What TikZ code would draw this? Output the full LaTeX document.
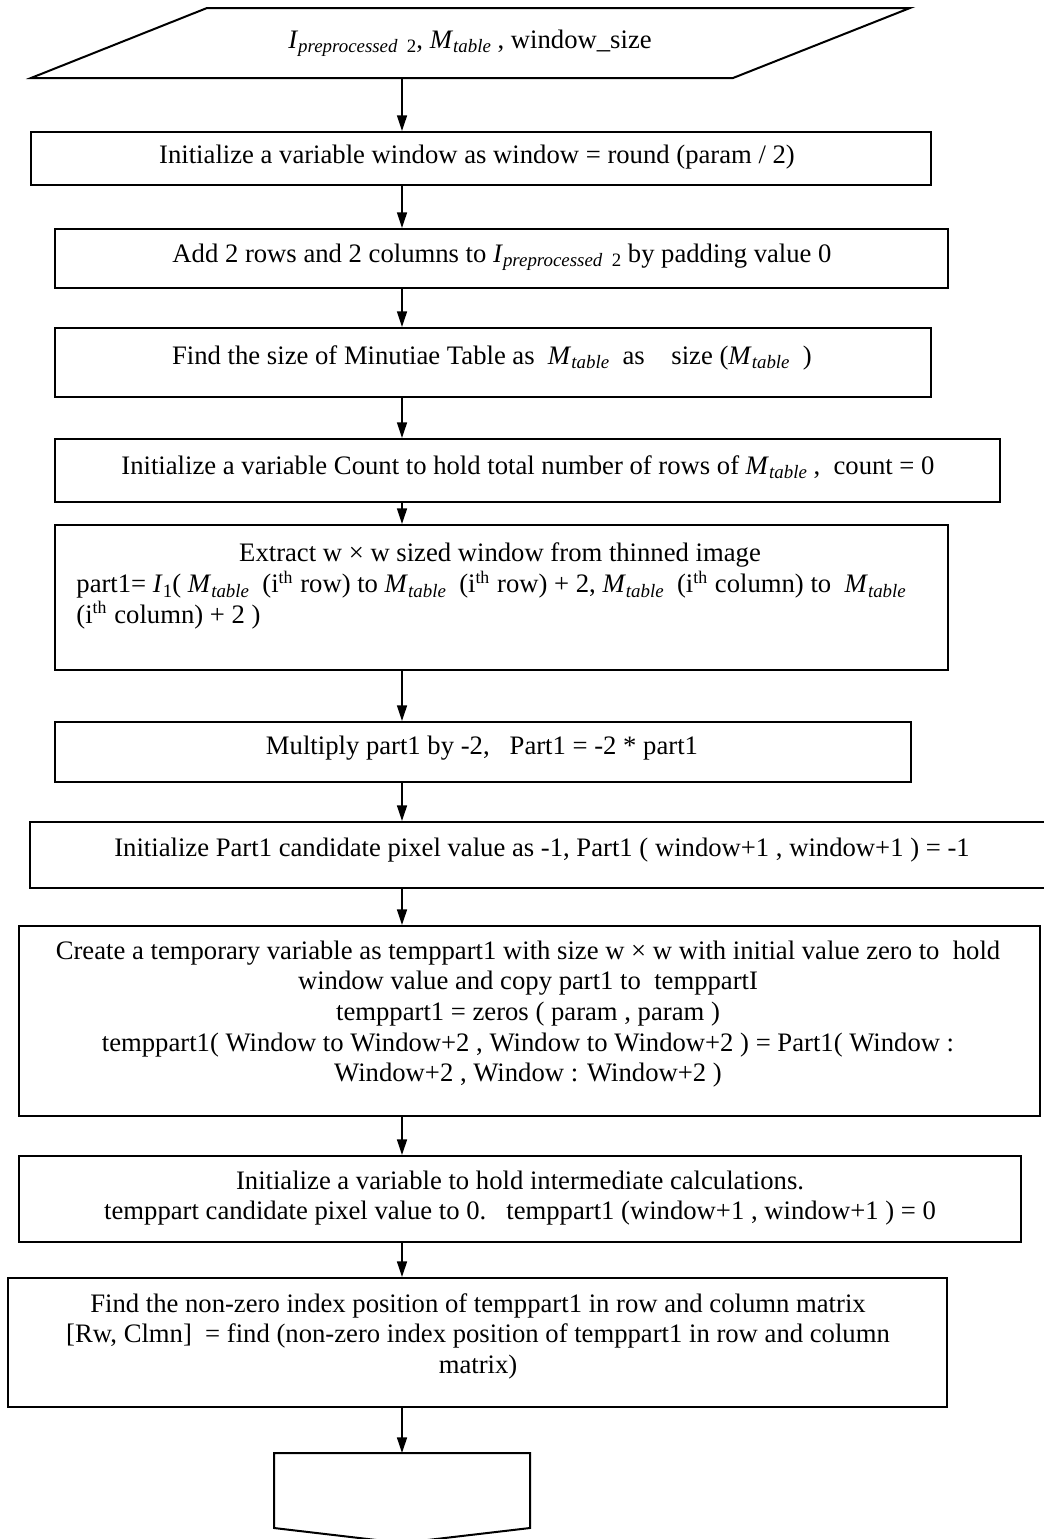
\documentclass[tikz,border=0pt]{standalone}
\usepackage{fontspec}
\setmainfont{Liberation Serif}
\usetikzlibrary{arrows.meta}
\newcommand\sv[2]{\textit{#1}\raisebox{-0.35ex}{\fontsize{8.5pt}{9pt}\selectfont\itshape #2}}
\newcommand\ith{i\textsuperscript{th}}
\begin{document}
\begin{tikzpicture}[x=0.45pt,y=-0.45pt,
  bx/.style 2 args={draw, line width=0.9pt, inner sep=0pt, anchor=center,
     minimum width=#1*0.45pt, minimum height=#2*0.45pt},
  txt/.style={inner sep=0pt, font=\fontsize{12pt}{13.7pt}\selectfont, align=center},
  arr/.style={line width=0.6pt, -{Triangle[width=4.5pt,length=7pt]}},
]
\useasboundingbox (0,0) rectangle (1044,1539);
\coordinate (ax) at (402,0);

% input parallelogram
\node[bx={700}{70}, draw=none] (in) at (470,43) {};
\draw[line width=0.9pt] (207,8) -- (910,8) -- (733,78) -- (31,78) -- cycle;
\node[txt] (tin) at (470,43) {\sv{I}{preprocessed\ \ \upshape 2}, \sv{M}{table} , window\_size};

% boxes
\node[bx={900}{53}]  (b1)  at (481,158.5) {};
\node[bx={893}{59}]  (b2)  at (501.5,258.5) {};
\node[bx={876}{69}]  (b3)  at (493,362.5) {};
\node[bx={945}{63}]  (b4)  at (527.5,470.5) {};
\node[bx={893}{145}] (b5)  at (501.5,597.5) {};
\node[bx={856}{60}]  (b6)  at (483,752) {};
\node[bx={1022}{66}] (b7)  at (541,855) {};
\node[bx={1021}{190}] (b8) at (529.5,1021) {};
\node[bx={1002}{86}] (b9)  at (520,1199) {};
\node[bx={939}{129}] (b10) at (477.5,1342.5) {};

% off-page connector
\node[bx={254}{73}, draw=none] (off) at (402,1490.5) {};
\draw[line width=0.9pt] (off.north west) -- (off.north east) -- (off.south east) -- (402,1543) -- (off.south west) -- cycle;

% texts
\node[txt] (t1) at (477,157) {Initialize a variable window as window = round (param / 2)};
\node[txt] (t2) at (502,257) {Add 2 rows and 2 columns to \sv{I}{preprocessed\ \ \upshape 2} by padding value 0};
\node[txt] (t3) at (492,358) {Find the size of Minutiae Table as\ \ \sv{M}{table}\ \ as\ \ \ \ size (\sv{M}{table}\ \ )};
\node[txt] (t4) at (528,467) {Initialize a variable Count to hold total number of rows of \sv{M}{table} ,\ \ count = 0};
\node[txt] (t5a) at (500,555) {Extract w × w sized window from thinned image};
\node[txt, align=left, anchor=west] (t5b) at (76,600) {part1= \sv{I}{\upshape 1}( \sv{M}{table}\ \ (\ith{} row) to \sv{M}{table}\ \ (\ith{} row) + 2, \sv{M}{table}\ \ (\ith{} column) to\ \ \sv{M}{table}\\(\ith{} column) + 2 )};
\node[txt] (t6) at (482,748) {Multiply part1 by -2,\ \ \ Part1 = -2 * part1};
\node[txt] (t7) at (542,850) {Initialize Part1 candidate pixel value as -1, Part1 ( window+1 , window+1 ) = -1};
\node[txt, font=\fontsize{12pt}{13.8pt}\selectfont] (t8) at (528,1014) {Create a temporary variable as temppart1 with size w × w with initial value zero to\ \ hold\\window value and copy part1 to\ \ temppartI\\temppart1 = zeros ( param , param )\\temppart1( Window to Window+2 , Window to Window+2 ) = Part1( Window :\\Window+2 , Window : Window+2 )};
\node[txt] (t9) at (520,1198) {Initialize a variable to hold intermediate calculations.\\temppart candidate pixel value to 0.\ \ \ temppart1 (window+1 , window+1 ) = 0};
\node[txt] (t10) at (478,1336) {Find the non-zero index position of temppart1 in row and column matrix\\{}[Rw, Clmn]\ \ = find (non-zero index position of temppart1 in row and column\\matrix)};

% arrows
\draw[arr] (in.south -| ax) -- (b1.north -| ax);
\draw[arr] (b1.south -| ax) -- (b2.north -| ax);
\draw[arr] (b2.south -| ax) -- (b3.north -| ax);
\draw[arr] (b3.south -| ax) -- (b4.north -| ax);
\draw[arr] (b4.south -| ax) -- (b5.north -| ax);
\draw[arr] (b5.south -| ax) -- (b6.north -| ax);
\draw[arr] (b6.south -| ax) -- (b7.north -| ax);
\draw[arr] (b7.south -| ax) -- (b8.north -| ax);
\draw[arr] (b8.south -| ax) -- (b9.north -| ax);
\draw[arr] (b9.south -| ax) -- (b10.north -| ax);
\draw[arr] (b10.south -| ax) -- (off.north -| ax);
\end{tikzpicture}
\end{document}
